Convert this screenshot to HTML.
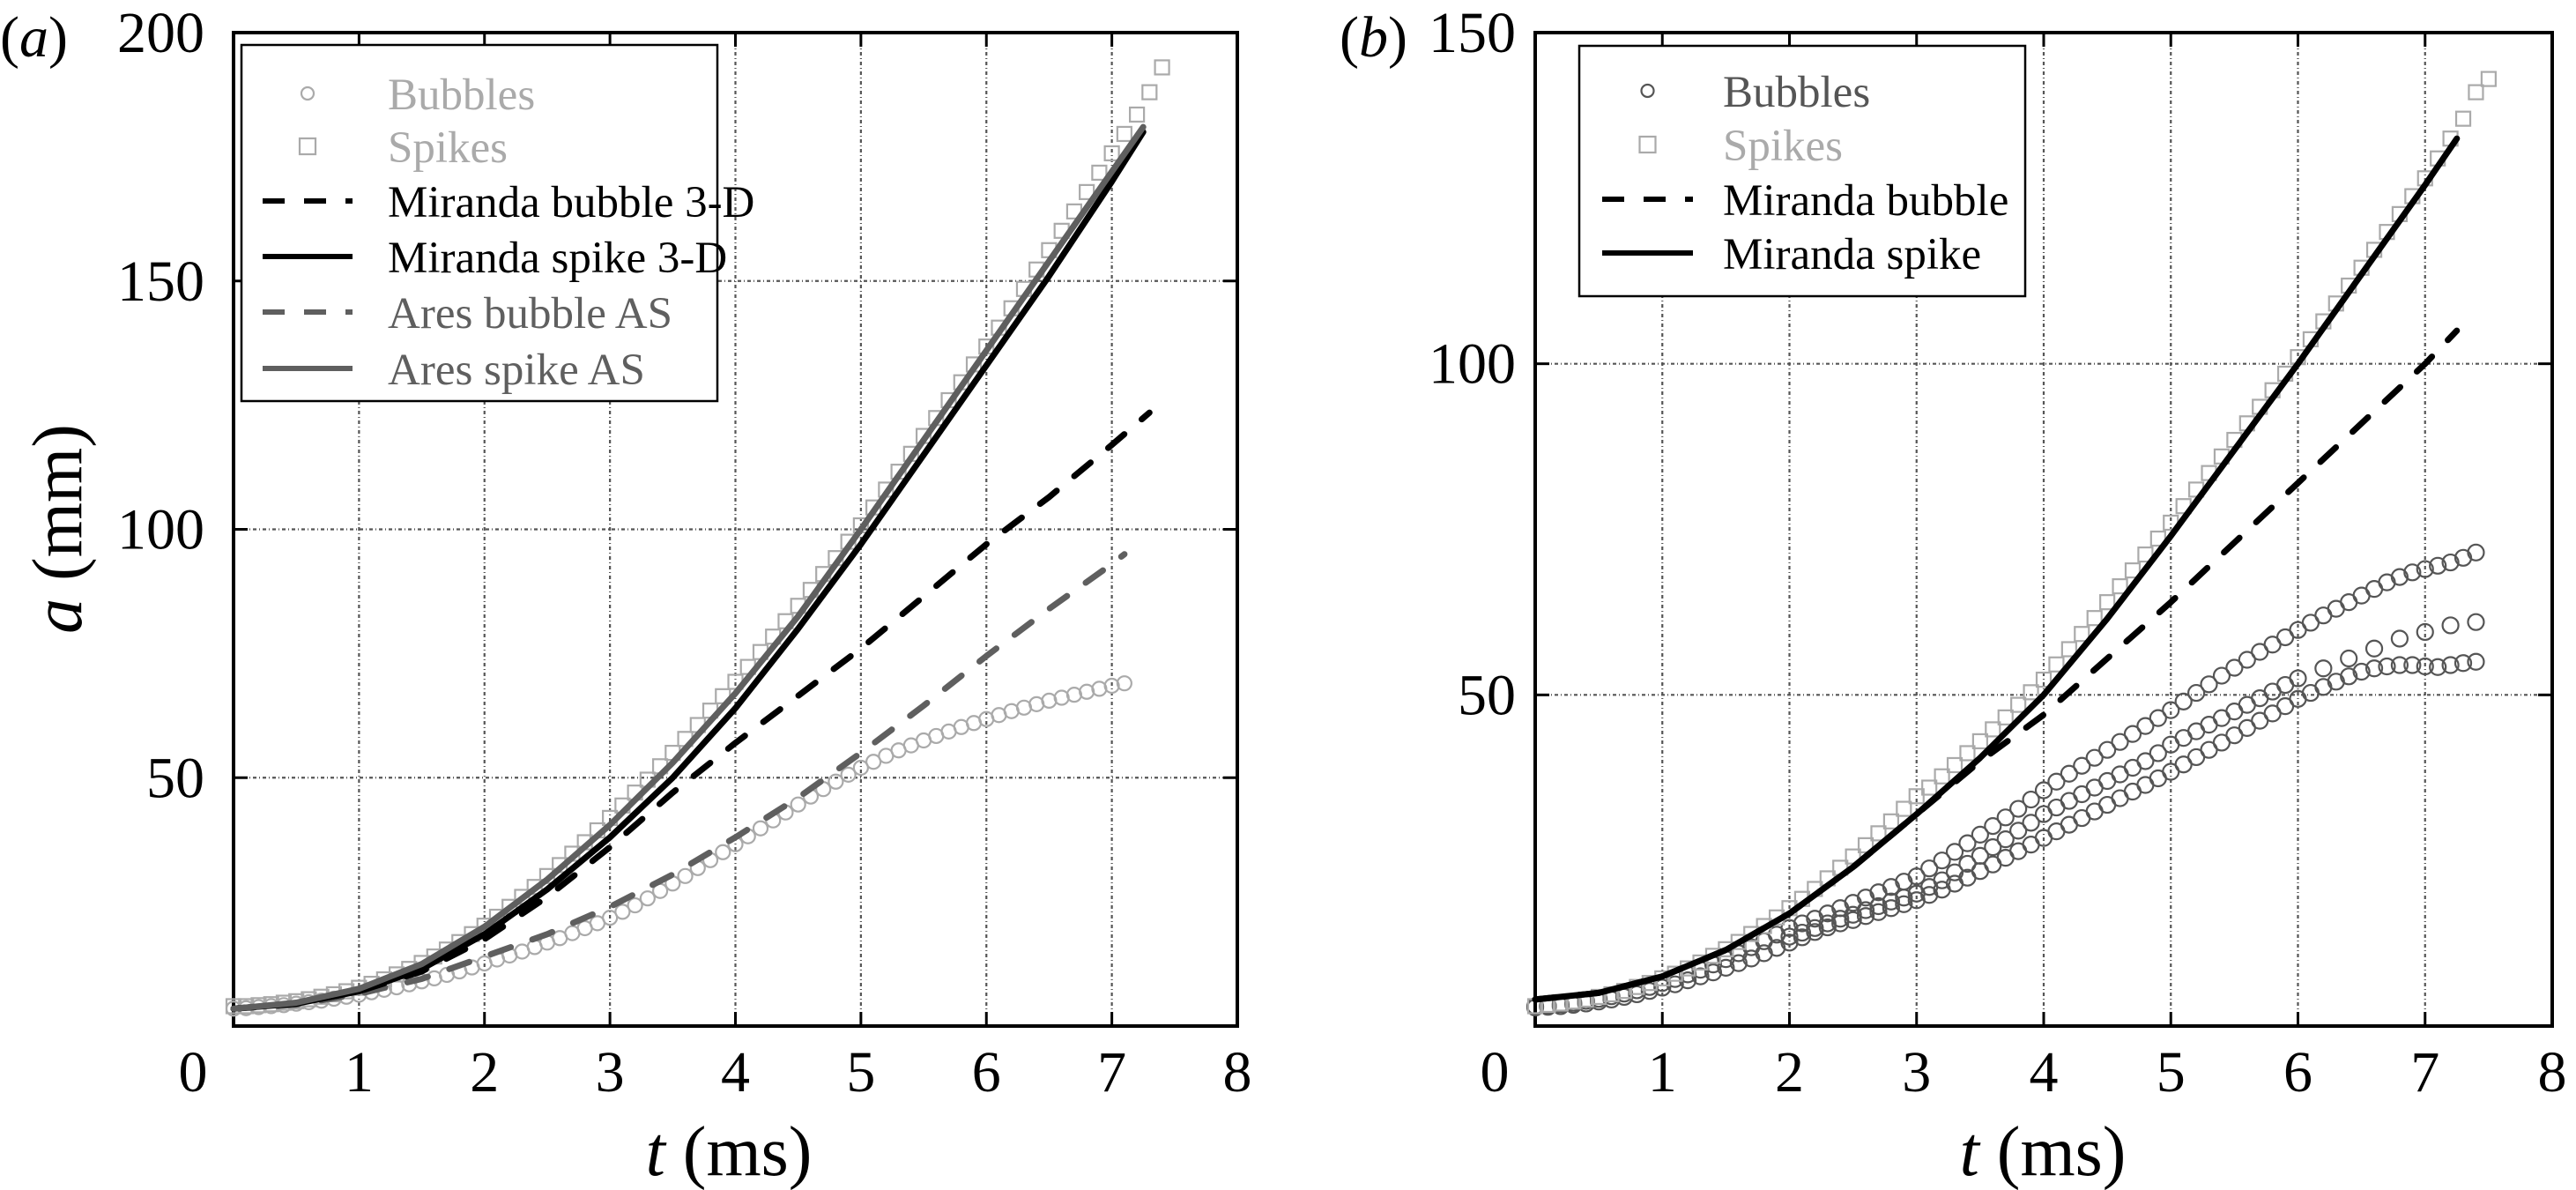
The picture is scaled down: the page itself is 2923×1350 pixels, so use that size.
<!DOCTYPE html>
<html><head><meta charset="utf-8"><style>
html,body{margin:0;padding:0;background:#fff;overflow:hidden}
svg{display:block}
text{font-family:"Liberation Serif",serif}
</style></head><body>
<svg id="fig" width="2923" height="1350" viewBox="0 0 2923 1350" xmlns="http://www.w3.org/2000/svg">
<g id="pa"></g>
<g id="pb"></g>
</svg>
<script>
// ---- shared axis data ----
const xTicks = [0,1,2,3,4,5,6,7,8];
const yTicksA = [50,100,150,200];
const yTicksB = [50,100,150];
// ---- panel a data (t step 0.1 from 0) ----
const spikesA = [4,4,4.2,4.4,4.7,5,5.4,5.9,6.4,7,7.7,8.5,9.4,10.4,11.5,12.7,14,15.4,16.9,18.5,20.2,22,24,26,28,30.2,32.4,34.7,37,39.4,41.9,44.4,47,49.6,52.3,55,57.8,60.6,63.5,66.4,69.3,72.3,75.3,78.4,81.5,84.6,87.8,91,94.2,97.5,100.8,104.4,108,111.6,115.2,118.8,122.4,126,129.6,133.2,136.8,140.6,144.5,148.4,152.3,156.2,160.1,164,167.9,171.8,175.7,179.6,183.5,188,193];
const bubblesA = [3.5,3.6,3.8,4,4.2,4.5,4.8,5.1,5.5,5.9,6.3,6.8,7.3,7.8,8.4,9,9.6,10.3,11,11.8,12.6,13.4,14.2,15,15.9,16.8,17.7,18.7,19.7,20.7,21.8,23,24.3,25.7,27.2,28.7,30.2,31.8,33.4,35,36.6,38.2,39.8,41.4,43,44.6,46.2,47.7,49.2,50.6,52,53.2,54.4,55.5,56.5,57.5,58.4,59.3,60.2,61,61.8,62.6,63.4,64.1,64.8,65.5,66.1,66.7,67.3,67.9,68.5,69];
const lineTA = [0,0.5,1,1.5,2,2.5,3,3.5,4,4.5,5,5.5,6,6.5,7,7.25];
const mirSpikeA = [3.5,4.5,7,11.5,18.5,27.5,38,50,64,80,97,115,133,151,170,180];
const aresSpikeA = [3.5,4.7,7.5,12.5,20,29.5,40.5,53,67,82.5,100,118,136,154,172,181];
const mirBubbleTA = [0,0.5,1,1.5,2,2.5,3,3.5,4,4.5,5,5.5,6,6.5,7,7.3];
const mirBubbleA = [3.5,4.5,7,11,17.5,26,36,47,57,66.5,76,86.5,97,106.5,117,123.5];
const aresBubbleTA = [0,0.5,1,1.5,2,2.5,3,3.5,4,4.5,5,5.5,6,6.5,7,7.1];
const aresBubbleA = [3.5,4.3,6.5,9.5,14,18.5,24,30.5,38,46,55,64.5,74.5,84,93,95];
// ---- panel b data ----
const spikesB = [3,3.2,3.4,3.7,4,4.4,4.8,5.3,5.9,6.5,7.2,7.9,8.7,9.6,10.6,11.6,12.7,13.9,15.1,16.4,17.8,19.2,20.7,22.3,23.9,25.6,27.3,29.1,30.9,32.8,34.7,36,37.7,39.4,41.2,43,44.8,46.6,48.5,50.4,52.3,54.6,56.9,59.2,61.6,64,66.4,68.8,71.2,73.6,76,78.5,81,83.5,86,88.5,91,93.5,96,98.5,101,103.7,106.4,109.1,111.8,114.5,117.2,119.9,122.6,125.3,128,131,134,137,141,143];
const bubblesBUpper = [3,3.1,3.3,3.5,3.8,4.1,4.5,4.9,5.4,5.9,6.5,7.1,7.8,8.5,9.3,10.1,11,11.9,12.8,13.8,14.8,15.5,16.2,17,17.8,18.6,19.4,20.2,21,21.8,22.6,23.8,25,26.3,27.6,28.9,30.2,31.5,32.8,34.2,35.6,36.9,38.1,39.3,40.5,41.7,42.9,44.1,45.3,46.5,47.7,49,50.3,51.6,52.9,54.1,55.3,56.5,57.6,58.7,59.8,60.9,62,63,64,65,66,67,67.8,68.5,69,69.5,70,70.7,71.5];
const bubblesBLower = [2.8,2.9,3,3.2,3.4,3.7,4,4.4,4.8,5.3,5.8,6.3,6.9,7.5,8.1,8.8,9.5,10.2,11,11.8,12.6,13.4,14.2,14.9,15.5,16,16.6,17.2,17.8,18.4,19,19.8,20.6,21.5,22.4,23.4,24.4,25.4,26.4,27.4,28.4,29.4,30.4,31.4,32.4,33.4,34.4,35.4,36.4,37.4,38.4,39.5,40.6,41.7,42.8,43.9,45,46.1,47.2,48.3,49.4,50.3,51.2,52,52.8,53.5,54,54.3,54.5,54.5,54.3,54.2,54.5,54.8,55];
const bubblesBMidT = [2,2.1,2.2,2.3,2.4,2.5,2.6,2.7,2.8,2.9,3,3.1,3.2,3.3,3.4,3.5,3.6,3.7,3.8,3.9,4,4.1,4.2,4.3,4.4,4.5,4.6,4.7,4.8,4.9,5,5.1,5.2,5.3,5.4,5.5,5.6,5.7,5.8,5.9,6,6.2,6.4,6.6,6.8,7,7.2,7.4];
const bubblesBMid = [13.5,14.1,14.8,15.5,16.2,16.8,17.5,18.1,18.8,19.4,20,21,22,23.2,24.5,25.7,27,28.2,29.5,30.7,32,33,34,35,36,37,38,39,40,41.2,42.5,43.5,44.5,45.5,46.5,47.5,48.5,49.5,50.5,51.5,52.5,54,55.5,57,58.5,59.5,60.5,61];
const lineTB = [0,0.5,1,1.5,2,2.5,3,3.5,4,4.5,5,5.5,6,6.5,7,7.25];
const mirSpikeB = [4,5,7.5,11.5,17,24,32,40.5,50,61.5,74,87,100,113.5,127,134];
const mirBubbleB = [4,5,7.5,11.5,17,24,32,40,47,55.5,64,73,82,91,100,105];

const NS = 'http://www.w3.org/2000/svg';
function mk(parent, tag, attrs){
  const e = document.createElementNS(NS, tag);
  for (const k in attrs) e.setAttribute(k, attrs[k]);
  parent.appendChild(e); return e;
}
function axisFns(L,R,T,B,ymax){
  return { x: t => L + (R-L)*t/8, y: v => B - (B-T)*v/ymax };
}
function drawAxes(g, L,R,T,B,ymax,yTicks, yLabRight, tagText, tagX, titleX){
  const s = axisFns(L,R,T,B,ymax);
  xTicks.forEach(t=>{ if(t>0&&t<8){
    const l = mk(g,'line',{x1:s.x(t),x2:s.x(t),y1:T,y2:B,stroke:'#555','stroke-width':2.2,'stroke-dasharray':'4 3 1 3'});
    
    
  }});
  yTicks.forEach(v=>{ if(v<ymax){
    const l = mk(g,'line',{x1:L,x2:R,y1:s.y(v),y2:s.y(v),stroke:'#555','stroke-width':2.2,'stroke-dasharray':'4 3 1 3'});
    
    
  }});
  xTicks.forEach(t=>{
    mk(g,'line',{x1:s.x(t),x2:s.x(t),y1:B,y2:B-16,stroke:'#000','stroke-width':3});
    mk(g,'line',{x1:s.x(t),x2:s.x(t),y1:T,y2:T+16,stroke:'#000','stroke-width':3});
    const tx = mk(g,'text',{x:t===0 ? s.x(t)-46 : s.x(t),y:1238,'font-size':66,'text-anchor':'middle'});
    tx.textContent = t;
    
    
  });
  yTicks.forEach(v=>{
    mk(g,'line',{x1:L,x2:L+16,y1:s.y(v),y2:s.y(v),stroke:'#000','stroke-width':3});
    mk(g,'line',{x1:R,x2:R-16,y1:s.y(v),y2:s.y(v),stroke:'#000','stroke-width':3});
    const tx = mk(g,'text',{x:yLabRight,y:s.y(v)+22,'font-size':66,'text-anchor':'end'});
    tx.textContent = v;
    
    
  });
  const fr = mk(g,'rect',{x:L,y:T,width:R-L,height:B-T,fill:'none',stroke:'#000','stroke-width':4});
  
  
  const xt = mk(g,'text',{x:titleX,y:1333,'font-size':80,'text-anchor':'middle'});
  xt.innerHTML = '<tspan font-style="italic">t</tspan> (ms)';
  
  
  const pt = mk(g,'text',{x:tagX,y:64,'font-size':66});
  pt.innerHTML = '(<tspan font-style="italic">'+tagText+'</tspan>)';
  
  
  return s;
}
function markers(g, s, ts, vals, shape, color, name, size){
  const grp = mk(g,'g',{});
  
  
  vals.forEach((v,i)=>{
    const t = ts ? ts[i] : i*0.1;
    let m;
    if(shape==='c') m = mk(grp,'circle',{cx:s.x(t),cy:s.y(v),r:size,fill:'none',stroke:color,'stroke-width':2.2});
    else m = mk(grp,'rect',{x:s.x(t)-size,y:s.y(v)-size,width:2*size,height:2*size,fill:'none',stroke:color,'stroke-width':2.2});
    
    
  });
}
function line(g, s, ts, vals, color, dashed, name){
  const pts = vals.map((v,i)=>s.x(ts[i]).toFixed(1)+','+s.y(v).toFixed(1)).join(' ');
  const p = mk(g,'polyline',{points:pts,fill:'none',stroke:color,'stroke-width':7,'stroke-linecap':'round','stroke-linejoin':'round'});
  if(dashed) p.setAttribute('stroke-dasharray','24 26');
  
  
}
function legend(g, x,y,w,h, rows, symX0, symX1, textX, rowYs){
  const box = mk(g,'g',{});
  
  
  mk(box,'rect',{x:x,y:y,width:w,height:h,fill:'#fff',stroke:'#000','stroke-width':2.5});
  rows.forEach((r,i)=>{
    const cy = rowYs[i], cx=(symX0+symX1)/2;
    const e = mk(box,'g',{});
    
    
    if(r.k==='c') mk(e,'circle',{cx:cx,cy:cy,r:7,fill:'none',stroke:r.c,'stroke-width':2.2});
    else if(r.k==='s') mk(e,'rect',{x:cx-9,y:cy-9,width:18,height:18,fill:'none',stroke:r.c,'stroke-width':2.2});
    else { const l=mk(e,'line',{x1:symX0,x2:symX1,y1:cy,y2:cy,stroke:r.c,'stroke-width':6}); if(r.k==='d') l.setAttribute('stroke-dasharray','25 22'); }
    const t = mk(e,'text',{x:textX,y:cy+18,'font-size':51,fill:r.c});
    t.textContent = r.t;
  });
}

// ---- panel a ----
const ga = document.getElementById('pa');
const sa = drawAxes(ga, 265,1404,37,1164,200,yTicksA,232,'a',0,827);
const yta = mk(ga,'text',{x:0,y:0,'font-size':80,'text-anchor':'middle',transform:'translate(92,600) rotate(-90)'});
yta.innerHTML = '<tspan font-style="italic">a</tspan> (mm)';


markers(ga, sa, null, bubblesA, 'c', '#aaa', 'bubbles-a', 8);
markers(ga, sa, null, spikesA, 's', '#aaa', 'spikes-a', 8);
line(ga, sa, aresBubbleTA, aresBubbleA, '#5f5f5f', true, 'ares-bubble-line');
line(ga, sa, mirBubbleTA, mirBubbleA, '#000', true, 'miranda-bubble-3d-line');
line(ga, sa, lineTA, mirSpikeA, '#000', false, 'miranda-spike-3d-line');
line(ga, sa, lineTA, aresSpikeA, '#5f5f5f', false, 'ares-spike-line');
legend(ga, 274,51,540,404, [
 {k:'c',c:'#aaa',t:'Bubbles'},{k:'s',c:'#aaa',t:'Spikes'},
 {k:'d',c:'#000',t:'Miranda bubble 3-D'},{k:'l',c:'#000',t:'Miranda spike 3-D'},
 {k:'d',c:'#5f5f5f',t:'Ares bubble AS'},{k:'l',c:'#5f5f5f',t:'Ares spike AS'}],
 298,400,440,[106,166,228,291,354,418]);

// ---- panel b ----
const gb = document.getElementById('pb');
const sb = drawAxes(gb, 1742,2896,37,1164,150,yTicksB,1720,'b',1520,2318);
markers(gb, sb, null, bubblesBUpper, 'c', '#555', 'bubbles-b-upper', 9);
markers(gb, sb, null, bubblesBLower, 'c', '#555', 'bubbles-b-lower', 9);
markers(gb, sb, bubblesBMidT, bubblesBMid, 'c', '#555', 'bubbles-b-middle', 9);
markers(gb, sb, null, spikesB, 's', '#aaa', 'spikes-b', 8);
line(gb, sb, lineTB, mirBubbleB, '#000', true, 'miranda-bubble-line');
line(gb, sb, lineTB, mirSpikeB, '#000', false, 'miranda-spike-line');
legend(gb, 1792,52,506,284, [
 {k:'c',c:'#555',t:'Bubbles'},{k:'s',c:'#aaa',t:'Spikes'},
 {k:'d',c:'#000',t:'Miranda bubble'},{k:'l',c:'#000',t:'Miranda spike'}],
 1818,1921,1955,[103,164,226,287]);
</script>
</body></html>
